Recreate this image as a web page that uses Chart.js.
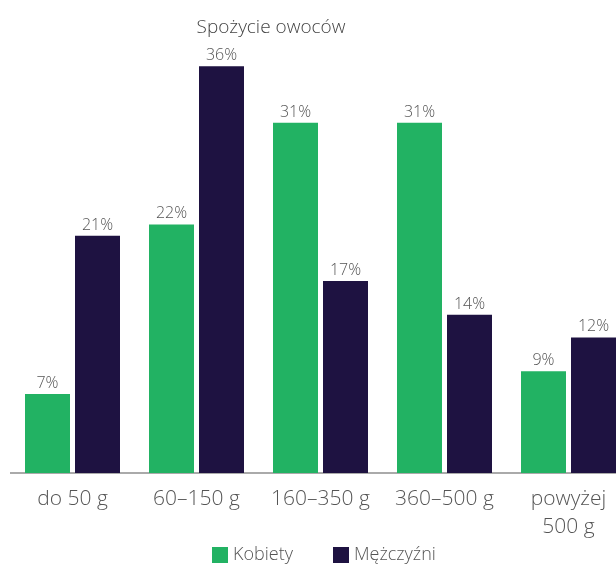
<!DOCTYPE html>
<html>
<head>
<meta charset="utf-8">
<script src="https://cdn.jsdelivr.net/npm/chart.js@4/dist/chart.umd.min.js"></script>
<style>
  html, body { margin: 0; padding: 0; overflow: hidden; background: #fff; }
  canvas { display: block; }
</style>
</head>
<body>
<canvas id="chart" width="641" height="564"></canvas>
<script>
// Fruit consumption by daily portion size, women vs men (percent of respondents)
const chartTitle = 'Spożycie owoców';
const categories = ['do 50 g', '60–150 g', '160–350 g', '360–500 g', ['powyżej', '500 g']];
const seriesNames = ['Kobiety', 'Mężczyźni'];
const kobiety = [7, 22, 31, 31, 9];
const mezczyzni = [21, 36, 17, 14, 12];

const GREEN = '#22b263';
const NAVY = '#1e1241';
const TEXT = '#555555';
const FONT = '"Open Sans", sans-serif';

// Percent labels above every bar, taken from the dataset values
const valueLabels = {
  id: 'valueLabels',
  afterDatasetsDraw(chart) {
    const ctx = chart.ctx;
    ctx.save();
    ctx.font = '300 16px ' + FONT;
    ctx.fillStyle = TEXT;
    ctx.textAlign = 'center';
    ctx.textBaseline = 'alphabetic';
    chart.data.datasets.forEach((ds, i) => {
      chart.getDatasetMeta(i).data.forEach((bar, j) => {
        ctx.fillText(ds.data[j] + '%', bar.x, bar.y - 6);
      });
    });
    ctx.restore();
  }
};

// Chart heading
const heading = {
  id: 'heading',
  afterDraw(chart) {
    const ctx = chart.ctx;
    ctx.save();
    ctx.font = '300 19px ' + FONT;
    ctx.fillStyle = '#444444';
    ctx.textAlign = 'center';
    ctx.textBaseline = 'alphabetic';
    ctx.fillText(chartTitle, 271, 33);
    ctx.restore();
  }
};

// Series key under the category labels, built from the datasets
const seriesKey = {
  id: 'seriesKey',
  afterDraw(chart) {
    const ctx = chart.ctx;
    const starts = [212, 333];
    const top = 547, box = 16;
    ctx.save();
    ctx.font = '300 18px ' + FONT;
    ctx.textAlign = 'left';
    ctx.textBaseline = 'middle';
    chart.data.datasets.forEach((ds, i) => {
      const x = starts[i];
      ctx.fillStyle = ds.backgroundColor;
      ctx.fillRect(x, top, box, box);
      ctx.fillStyle = TEXT;
      ctx.fillText(ds.label, x + box + 5, top + box / 2);
    });
    ctx.restore();
  }
};

new Chart(document.getElementById('chart'), {
  type: 'bar',
  data: {
    labels: categories,
    datasets: [
      { label: seriesNames[0], data: kobiety, backgroundColor: GREEN },
      { label: seriesNames[1], data: mezczyzni, backgroundColor: NAVY }
    ]
  },
  options: {
    responsive: false,
    animation: false,
    categoryPercentage: 100 / 124,
    barPercentage: 0.9,
    layout: { padding: { left: 10.5, right: 10.5, top: 21, bottom: 0 } },
    plugins: {
      title: { display: false },
      tooltip: { enabled: false },
      legend: { display: false }
    },
    scales: {
      y: { display: false, min: 0, max: 40 },
      x: {
        grid: { display: false },
        border: { display: true, color: '#aaaaaa', width: 2 },
        afterFit(scale) { scale.height = 91; },
        ticks: {
          color: TEXT,
          padding: 4,
          maxRotation: 0,
          autoSkip: false,
          font: { family: FONT, size: 21, weight: '300', lineHeight: 28 / 21 }
        }
      }
    }
  },
  plugins: [valueLabels, heading, seriesKey]
});
</script>
</body>
</html>
